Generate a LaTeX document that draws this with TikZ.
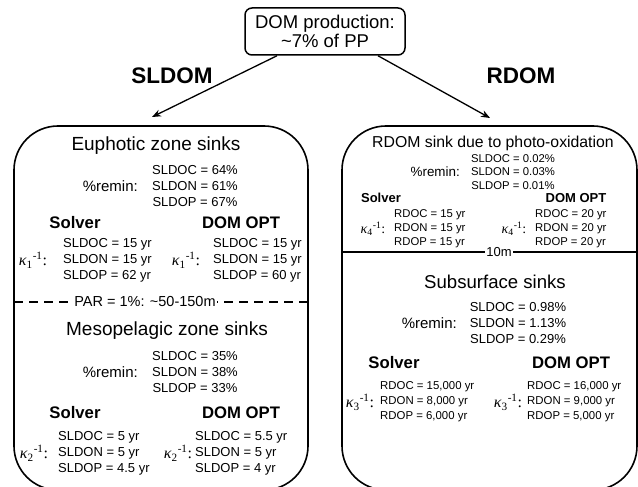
\documentclass[tikz,border=0pt]{standalone}
\usepackage{fontspec}
\setmainfont{Liberation Sans}
\newfontfamily\kfont{Liberation Serif}
\usetikzlibrary{arrows.meta}
\newcommand\fs[2]{\fontsize{#1}{#2}\selectfont}
\newcommand\kap[1]{{\kfont\itshape κ}{\kfont\textsubscript{#1}\textsuperscript{-1}:}}
\begin{document}
\begin{tikzpicture}[x=1pt,y=-1pt,inner sep=0pt,
  box/.style={draw,line width=1.6pt,rounded corners=44pt},
  ttl/.style={font=\fs{19}{22}},
  big/.style={font=\fs{22.5}{26}\bfseries},
  rem/.style={font=\fs{15}{18},anchor=east},
  val/.style={font=\fs{13}{16},align=center},
  kval/.style={font=\fs{13}{16},align=left,anchor=west},
  hdr/.style={font=\fs{16.7}{20}\bfseries},
  kapl/.style={font=\fs{16}{18}},
  arr/.style={line width=1.3pt,-{Stealth[length=9pt,width=7pt]}}]
\useasboundingbox (0,0) rectangle (638,487);

% top node and arrows
\node[draw,line width=1.5pt,rounded corners=7pt,minimum width=160pt,minimum height=47pt,align=center,font=\fs{18.5}{19}] (top) at (325,31.5) {DOM production:\\\textasciitilde7\% of PP};
\coordinate (la) at (152,117);
\coordinate (ra) at (490,118);
\draw[arr] ([xshift=-48pt]top.south) -- (la);
\draw[arr] ([xshift=53pt]top.south) -- (ra);
\node[big] (sldom) at (172,76) {SLDOM};
\node[big] (rdom) at (521,76) {RDOM};

% boxes
\draw[box] (14,126) rectangle (308,490);
\draw[box] (342,126) rectangle (637,490);

% ---------- left box ----------
\node[ttl] (eu) at (156,146) {Euphotic zone sinks};
\node[rem] (eurem) at (138,186) {\%remin:};
\node[val] (euval) at (195,186) {SLDOC = 64\%\\SLDON = 61\%\\SLDOP = 67\%};
\node[hdr] (eus) at (75,223) {Solver};
\node[hdr] (eud) at (241,223) {DOM OPT};
\node[kapl] (euk1) at (33,260) {\kap{1}};
\node[kval] (euv1) at (63,260) {SLDOC = 15 yr\\SLDON = 15 yr\\SLDOP = 62 yr};
\node[kapl] (euk2) at (186,260) {\kap{1}};
\node[kval] (euv2) at (213,260) {SLDOC = 15 yr\\SLDON = 15 yr\\SLDOP = 60 yr};

\coordinate (dl) at (14,302);
\coordinate (dr) at (308,302);
\draw[line width=1.6pt,dash pattern=on 9pt off 6pt] (dl) -- (dr);
\node[fill=white,inner xsep=1pt,font=\fs{14.5}{17}] (par) at (145,302) {PAR = 1\%: \textasciitilde50-150m};

\node[ttl] (me) at (167,331) {Mesopelagic zone sinks};
\node[rem] (merem) at (138,372) {\%remin:};
\node[val] (meval) at (195,372) {SLDOC = 35\%\\SLDON = 38\%\\SLDOP = 33\%};
\node[hdr] (mes) at (75,413) {Solver};
\node[hdr] (med) at (241,413) {DOM OPT};
\node[kapl] (mek1) at (34,453) {\kap{2}};
\node[kval] (mev1) at (58,453) {SLDOC = 5 yr\\SLDON = 5 yr\\SLDOP = 4.5 yr};
\node[kapl] (mek2) at (178,453) {\kap{2}};
\node[kval] (mev2) at (195,453) {SLDOC = 5.5 yr\\SLDON = 5 yr\\SLDOP = 4 yr};

% ---------- right box ----------
\node[font=\fs{15.8}{18}] (ph) at (493,143) {RDOM sink due to photo-oxidation};
\node[rem,font=\fs{13.4}{16}] (phrem) at (460,172) {\%remin:};
\node[val,font=\fs{11.3}{13.5}] (phval) at (513,172) {SLDOC = 0.02\%\\SLDON = 0.03\%\\SLDOP = 0.01\%};
\node[hdr,font=\fs{13}{16}\bfseries] (phs) at (381,198) {Solver};
\node[hdr,font=\fs{13}{16}\bfseries] (phd) at (576,198) {DOM OPT};
\node[kapl,font=\fs{14}{16}] (phk1) at (373,229) {\kap{4}};
\node[kval,font=\fs{11.3}{14}] (phv1) at (394,229) {RDOC = 15 yr\\RDON = 15 yr\\RDOP = 15 yr};
\node[kapl,font=\fs{14}{16}] (phk2) at (514,229) {\kap{4}};
\node[kval,font=\fs{11.3}{14}] (phv2) at (535,229) {RDOC = 20 yr\\RDON = 20 yr\\RDOP = 20 yr};

\coordinate (sl) at (342,252);
\coordinate (sr) at (637,252);
\draw[line width=1.6pt] (sl) -- (sr);
\node[fill=white,inner xsep=1pt,font=\fs{13}{15}] (tenm) at (499,252) {10m};

\node[ttl,font=\fs{18.6}{22}] (ss) at (495,282) {Subsurface sinks};
\node[rem] (ssrem) at (457,323) {\%remin:};
\node[val] (ssval) at (518,323) {SLDOC = 0.98\%\\SLDON = 1.13\%\\SLDOP = 0.29\%};
\node[hdr] (sss) at (394,363) {Solver};
\node[hdr] (ssd) at (571,363) {DOM OPT};
\node[kapl] (ssk1) at (360,402) {\kap{3}};
\node[kval,font=\fs{11.4}{15}] (ssv1) at (380,402) {RDOC = 15,000 yr\\RDON = 8,000 yr\\RDOP = 6,000 yr};
\node[kapl] (ssk2) at (508,402) {\kap{3}};
\node[kval,font=\fs{11.4}{15}] (ssv2) at (527,402) {RDOC = 16,000 yr\\RDON = 9,000 yr\\RDOP = 5,000 yr};
\end{tikzpicture}
\end{document}
